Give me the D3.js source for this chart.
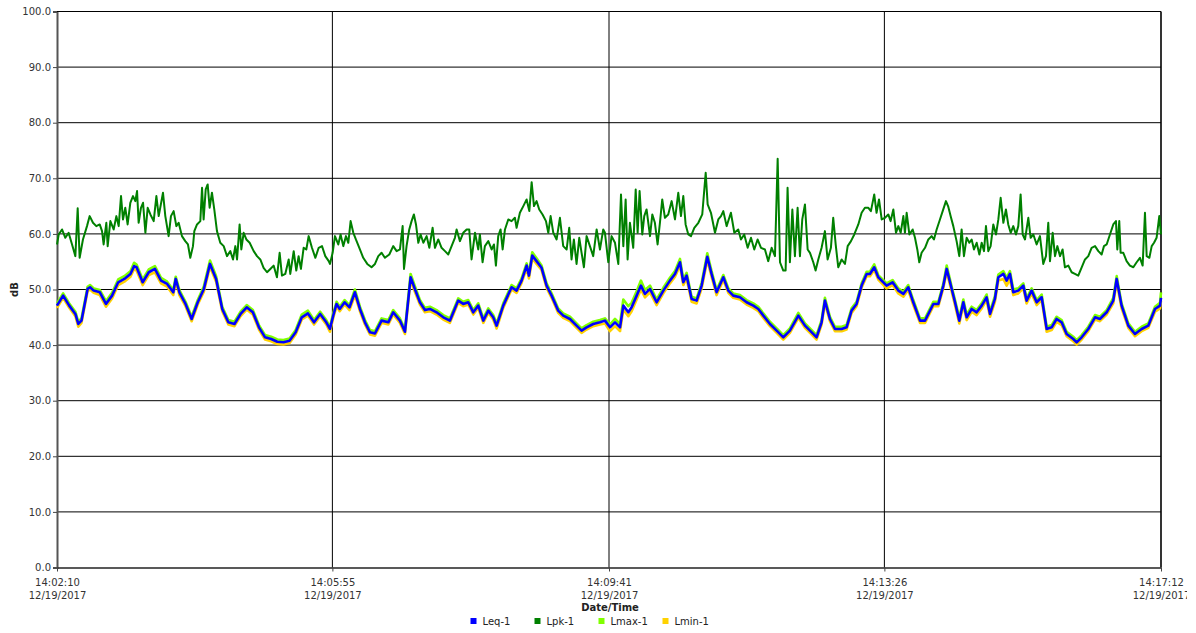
<!DOCTYPE html>
<html>
<head>
<meta charset="utf-8">
<script src="https://cdn.jsdelivr.net/npm/d3@7"></script>
<style>
  body { margin: 0; background: #fff; }
  svg { display: block; font-family: "DejaVu Sans", Verdana, sans-serif; }
</style>
</head>
<body>
<svg id="chart" width="1187" height="633"></svg>
<script>
// start of the record and the labelled tick times
let day = "12/19/2017"
let startTime = "14:02:10"
let timeTicks = ["14:02:10", "14:05:55", "14:09:41", "14:13:26", "14:17:12"]
let dbTicks = [0, 10, 20, 30, 40, 50, 60, 70, 80, 90, 100]
let seriesNames = ["Leq-1", "Lpk-1", "Lmax-1", "Lmin-1"]
let seriesColors = ["#0000ff", "#008000", "#80ff00", "#ffd200"]

// [seconds after start, dB]
let leq = [
  [0,47.1],[5,48.9],[10,47.1],[15,45.6],[17.4,43.8],[20,44.4],[25,50.1],[27,50.4],[30,49.8],[35,49.5],
  [40,47.4],[45,48.9],[50,51.3],[55,51.9],[60,52.8],[63,54.2],[65,54.0],[70,51.3],[75,53.1],[80,53.7],
  [85,51.6],[90,51.0],[95,49.5],[97,51.9],[100,49.5],[105,47.4],[110,44.7],[115,47.7],[120,50.1],[125,54.6],
  [130,51.9],[135,46.5],[140,44.1],[145,43.8],[150,45.6],[155,46.8],[160,45.9],[165,43.2],[170,41.4],[175,41.1],
  [180,40.6],[185,40.5],[190,40.8],[195,42.3],[200,45.0],[205,45.7],[210,44.1],[215,45.6],[220,44.1],
  [223,42.9],[225.7,45.3],[228.4,47.4],[231,46.5],[235,47.7],[239,46.8],[243.4,49.5],[247.5,46.5],[251.6,44.1],[255.7,42.3],
  [259.8,42.1],[265.2,44.4],[270.7,44.1],[274.7,45.9],[280.2,44.4],[284.3,42.4],[288.9,52.2],[292.4,50.1],[296.5,47.7],[300.6,46.3],
  [304.7,46.5],[310.1,45.9],[315.6,45.0],[321,44.4],[327.8,48.0],[331.9,47.4],[336,47.7],[340.1,45.9],[344.2,47.1],[348.3,44.4],
  [352.4,46.2],[356.4,45.0],[359.2,43.5],[364.6,47.1],[371.4,50.4],[375.5,49.8],[379.6,51.6],[383.7,54.3],[385.6,52.5],[388.3,56.1],
  [391.8,55.1],[395.9,53.9],[400,50.7],[404.1,48.9],[409.5,46.2],[413.6,45.3],[419.1,44.7],[424.5,43.5],[428.6,42.6],[432.7,43.2],
  [438.1,43.8],[443.6,44.1],
  [447.7,44.4],[451.8,43.2],[455.9,44.1],[460,43.2],[462.7,47.1],[466.8,45.9],[469.5,46.8],[473.6,48.9],[477.1,50.7],[480.4,49.2],
  [484.5,50.1],[489.9,47.7],[495.4,49.8],[500.8,51.6],[504.9,52.8],[509,54.9],[511.7,51.3],[514.4,52.5],[518.5,48.3],[522.6,48.0],
  [526.7,50.7],[531.3,55.9],[534.8,52.8],[538.9,49.5],[544.4,52.2],[548.5,49.8],[552.5,48.9],[558,48.6],[563.4,47.7],[568.9,47.1],
  [573,46.5],[577.1,45.3],[582.5,43.8],[588,42.6],[593.4,41.4],[598.8,42.6],[605.7,45.3],[611.1,43.5],[615.2,42.6],[620.6,41.4],
  [624.7,44.1],[627.4,48.0],[631.5,44.7],[635.6,42.9],[641.1,42.9],[645.1,43.2],[649.2,46.2],[653.3,47.4],[657.4,50.7],[661.5,52.8],
  [664.2,52.8],[667.7,54.0],[671,52.2],
  [677.8,50.7],[682.7,51.3],[687.4,49.8],[691.5,49.2],[695.5,50.4],[699.6,47.7],[705.1,44.4],[709.2,44.4],[716,47.4],[720.1,47.4],
  [724.2,50.7],[726.9,53.7],[731,50.1],[733.7,47.7],[737.2,44.4],[740.5,47.7],[743.2,45.0],[747.3,46.5],[751.4,45.9],[755.5,47.1],
  [759.5,48.6],[762.3,45.6],[766.3,48.3],[769.1,52.2],[773.2,52.8],[775.9,51.6],[778.6,52.8],[781.3,49.5],[785.4,49.8],[789.5,50.7],
  [792.2,48.0],[796.3,49.8],[800.4,47.7],[804.5,48.6],[808.6,42.9],[812.7,43.2],[816.7,44.7],[820.8,44.1],[824.9,42.0],[830.3,41.1],
  [833.1,40.5],[837.2,41.4],[842.6,42.9],[848.1,45.0],[852.1,44.7],[857.6,45.9],[863,48.0],[865.8,51.9],[869.8,47.1],[875.3,43.5],
  [880.7,42.0],[886.2,42.9],[891.6,43.5],[897.1,46.5],[901.2,47.1],[902,48.5]
]

let lmax = [
  [0,47.5],[5,49.3],[10,47.5],[15,46.0],[17.4,44.2],[20,44.8],[25,50.5],[27,50.8],[30,50.2],[35,49.9],
  [40,47.9],[45,49.4],[50,51.8],[55,52.4],[60,53.3],[63,54.8],[65,54.5],[70,51.8],[75,53.6],[80,54.2],
  [85,52.1],[90,51.4],[95,49.9],[97,52.3],[100,49.9],[105,47.8],[110,45.1],[115,48.1],[120,50.6],[125,55.2],
  [130,52.4],[135,46.9],[140,44.5],[145,44.2],[150,46.0],[155,47.2],[160,46.3],[165,43.6],[170,41.8],[175,41.5],
  [180,41.0],[185,40.9],[190,41.2],[195,42.7],[200,45.5],[205,46.2],[210,44.5],[215,46.0],[220,44.5],
  [223,43.3],[225.7,45.7],[228.4,47.8],[231,46.9],[235,48.1],[239,47.2],[243.4,50.0],[247.5,46.9],[251.6,44.5],[255.7,42.7],
  [259.8,42.5],[265.2,44.8],[270.7,44.5],[274.7,46.3],[280.2,44.8],[284.3,42.8],[288.9,52.8],[292.4,50.6],[296.5,48.1],[300.6,46.7],
  [304.7,46.9],[310.1,46.3],[315.6,45.4],[321,44.8],[327.8,48.4],[331.9,47.8],[336,48.1],[340.1,46.3],[344.2,47.5],[348.3,44.8],
  [352.4,46.6],[356.4,45.4],[359.2,43.9],[364.6,47.5],[371.4,50.8],[375.5,50.2],[379.6,52.0],[383.7,54.7],[385.6,52.9],[388.3,56.7],
  [391.8,55.6],[395.9,54.3],[400,51.1],[404.1,49.3],[409.5,46.6],[413.6,45.7],[419.1,45.1],[424.5,43.9],[428.6,43.0],[432.7,43.6],
  [438.1,44.2],[443.6,44.5],
  [447.7,44.8],[451.8,43.7],[455.9,44.7],[460,43.8],[462.7,48.2],[466.8,47.0],[469.5,47.6],[473.6,49.7],[477.1,51.6],[480.4,49.9],
  [484.5,50.7],[489.9,48.2],[495.4,50.3],[500.8,52.1],[504.9,53.3],[509,55.5],[511.7,51.8],[514.4,53.0],[518.5,48.7],[522.6,48.4],
  [526.7,51.2],[531.3,56.5],[534.8,53.3],[538.9,49.9],[544.4,52.6],[548.5,50.2],[552.5,49.3],[558,49.0],[563.4,48.1],[568.9,47.5],
  [573,46.9],[577.1,45.7],[582.5,44.2],[588,43.0],[593.4,41.8],[598.8,43.0],[605.7,45.8],[611.1,43.9],[615.2,43.0],[620.6,41.8],
  [624.7,44.5],[627.4,48.5],[631.5,45.1],[635.6,43.3],[641.1,43.3],[645.1,43.6],[649.2,46.6],[653.3,47.8],[657.4,51.1],[661.5,53.2],
  [664.2,53.2],[667.7,54.5],[671,52.6],
  [677.8,51.1],[682.7,51.7],[687.4,50.2],[691.5,49.6],[695.5,50.8],[699.6,48.1],[705.1,44.8],[709.2,44.8],[716,47.8],[720.1,47.8],
  [724.2,51.1],[726.9,54.3],[731,50.5],[733.7,48.1],[737.2,44.9],[740.5,48.2],[743.2,45.5],[747.3,46.9],[751.4,46.3],[755.5,47.5],
  [759.5,49.1],[762.3,46.0],[766.3,48.8],[769.1,52.7],[773.2,53.3],[775.9,52.1],[778.6,53.3],[781.3,50.0],[785.4,50.2],[789.5,51.1],
  [792.2,48.4],[796.3,50.2],[800.4,48.1],[804.5,49.1],[808.6,43.3],[812.7,43.6],[816.7,45.1],[820.8,44.5],[824.9,42.4],[830.3,41.5],
  [833.1,40.9],[837.2,41.8],[842.6,43.3],[848.1,45.4],[852.1,45.1],[857.6,46.3],[863,48.5],[865.8,52.4],[869.8,47.5],[875.3,43.9],
  [880.7,42.4],[886.2,43.3],[891.6,43.9],[897.1,46.9],[901.2,47.6],[902,49.5]
]

let lmin = [
  [0,46.7],[5,48.5],[10,46.7],[15,45.2],[17.4,43.3],[20,44.0],[25,49.7],[27,50.0],[30,49.4],[35,49.0],
  [40,46.9],[45,48.4],[50,50.8],[55,51.4],[60,52.3],[63,53.7],[65,53.4],[70,50.8],[75,52.6],[80,53.1],
  [85,51.1],[90,50.5],[95,49.0],[97,51.4],[100,49.0],[105,47.0],[110,44.3],[115,47.3],[120,49.6],[125,54.1],
  [130,51.4],[135,46.1],[140,43.7],[145,43.4],[150,45.2],[155,46.4],[160,45.5],[165,42.8],[170,41.0],[175,40.7],
  [180,40.2],[185,40.1],[190,40.4],[195,41.9],[200,44.6],[205,45.3],[210,43.7],[215,45.2],[220,43.7],
  [223,42.4],[225.7,44.9],[228.4,47.0],[231,46.1],[235,47.3],[239,46.3],[243.4,49.0],[247.5,46.1],[251.6,43.7],[255.7,41.9],
  [259.8,41.7],[265.2,44.0],[270.7,43.7],[274.7,45.5],[280.2,44.0],[284.3,42.0],[288.9,51.7],[292.4,49.6],[296.5,47.3],[300.6,45.9],
  [304.7,46.1],[310.1,45.5],[315.6,44.6],[321,44.0],[327.8,47.6],[331.9,47.0],[336,47.3],[340.1,45.5],[344.2,46.7],[348.3,44.0],
  [352.4,45.8],[356.4,44.6],[359.2,43.0],[364.6,46.7],[371.4,50.0],[375.5,49.4],[379.6,51.2],[383.7,53.8],[385.6,52.0],[388.3,55.6],
  [391.8,54.6],[395.9,53.5],[400,50.3],[404.1,48.5],[409.5,45.8],[413.6,44.9],[419.1,44.3],[424.5,43.1],[428.6,42.2],[432.7,42.8],
  [438.1,43.4],[443.6,43.7],
  [447.7,43.9],[451.8,42.5],[455.9,43.4],[460,42.5],[462.7,46.4],[466.8,45.2],[469.5,46.1],[473.6,48.2],[477.1,50.0],[480.4,48.6],
  [484.5,49.5],[489.9,47.2],[495.4,49.3],[500.8,51.1],[504.9,52.3],[509,54.3],[511.7,50.8],[514.4,52.0],[518.5,47.8],[522.6,47.5],
  [526.7,50.2],[531.3,55.3],[534.8,52.3],[538.9,49.0],[544.4,51.7],[548.5,49.4],[552.5,48.5],[558,48.2],[563.4,47.3],[568.9,46.7],
  [573,46.1],[577.1,44.9],[582.5,43.4],[588,42.2],[593.4,41.0],[598.8,42.2],[605.7,44.9],[611.1,43.1],[615.2,42.2],[620.6,41.0],
  [624.7,43.7],[627.4,47.5],[631.5,44.3],[635.6,42.5],[641.1,42.5],[645.1,42.8],[649.2,45.8],[653.3,47.0],[657.4,50.3],[661.5,52.4],
  [664.2,52.4],[667.7,53.5],[671,51.8],
  [677.8,50.2],[682.7,50.8],[687.4,49.3],[691.5,48.7],[695.5,49.9],[699.6,47.2],[705.1,44.0],[709.2,44.0],[716,47.0],[720.1,47.0],
  [724.2,50.3],[726.9,53.2],[731,49.6],[733.7,47.2],[737.2,43.9],[740.5,47.2],[743.2,44.5],[747.3,46.0],[751.4,45.4],[755.5,46.6],
  [759.5,48.1],[762.3,45.1],[766.3,47.8],[769.1,51.6],[773.2,51.9],[775.9,50.7],[778.6,51.9],[781.3,49.0],[785.4,49.3],[789.5,50.2],
  [792.2,47.5],[796.3,49.3],[800.4,47.2],[804.5,48.1],[808.6,42.4],[812.7,42.7],[816.7,44.2],[820.8,43.6],[824.9,41.6],[830.3,40.7],
  [833.1,40.1],[837.2,41.0],[842.6,42.5],[848.1,44.6],[852.1,44.3],[857.6,45.5],[863,47.5],[865.8,51.3],[869.8,46.6],[875.3,43.1],
  [880.7,41.6],[886.2,42.5],[891.6,43.1],[897.1,46.0],[901.2,46.6],[902,48.0]
]

let lpk = [
  [0,58.1],[1.4,59.9],[4.1,60.8],[6.8,59.3],[9.5,60.2],[12.3,58.1],[15,56.0],[16.9,64.6],[18.5,55.7],[21.2,59.0],
  [24.5,61.4],[26.7,63.2],[29.4,62.0],[32.1,61.4],[34.9,61.7],[36.8,60.5],[38.1,58.1],[40.3,62.0],[41.4,57.8],[43.6,62.3],
  [46.3,60.8],[48.5,63.2],[50.4,61.4],[52.3,66.8],[53.9,62.6],[55.8,64.7],[57.7,61.7],[59.9,65.6],[62.1,66.8],[64,65.9],
  [65.4,67.7],[66.7,62.0],[68.6,64.7],[70.3,65.6],[72.2,60.2],[74.1,64.7],[76.3,63.5],[79,62.3],[81.2,66.8],[83.1,63.2],
  [86.6,67.4],[88.5,63.2],[91.2,59.6],[93.1,63.2],[95.3,64.1],[97.5,61.4],[99.4,62.0],[102.1,59.6],[104.8,58.7],[107,58.1],
  [108.9,55.7],[111.1,57.8],[112.2,60.5],[114.4,61.7],[117.1,62.3],[118.5,68.3],[119.8,62.6],[121.5,68.0],[123.1,68.9],[124.7,64.7],
  [126.6,67.4],[128.5,64.4],[130.7,60.5],[133.4,58.4],[136.2,57.8],[138.9,56.0],[141.6,56.9],[143.8,55.4],[145.7,57.8],[147.1,55.4],
  [149.2,61.7],[150.6,57.2],[152.5,60.2],[154.7,59.0],[157.4,58.4],[160.7,56.9],[163.4,56.0],[166.1,55.4],[168.8,53.9],[171.6,53.1],
  [174.3,53.7],[177,54.3],[179.7,52.2],[181.9,56.6],[183.8,52.5],[186.5,52.8],[189.3,55.4],[190.6,52.8],[193.4,56.9],[195.5,53.4],
  [197.4,56.0],[199.3,53.7],[201.5,57.5],[203.7,57.2],[205.6,59.6],[208.3,57.5],[211.1,55.7],[213.8,57.5],[216.5,57.8],[219.2,56.0],
  [222,55.1],
  [223,54.6],[225.2,56.6],[227.1,59.6],[229.8,58.1],[231.7,59.9],[233.9,57.8],[236.1,59.6],[238,58.4],[239.9,62.3],[242.1,60.2],
  [244.2,59.0],[247,57.5],[250.2,55.7],[253.5,54.6],[257,54.0],[259.8,54.6],[262.5,56.0],[265.2,56.6],[267.9,55.7],[271.5,56.3],
  [274.7,57.8],[277.5,56.9],[280.2,57.2],[282.4,61.4],[283.5,53.7],[285.6,57.8],[287.8,60.8],[289.7,62.3],[291.6,63.5],[293.3,61.7],
  [295.2,58.4],[297.1,59.9],[299.3,58.4],[302,59.6],[304.2,57.5],[306.9,61.1],[308.8,57.5],[311.5,59.0],[314.2,57.5],[317,56.9],
  [319.7,56.3],[322.4,57.8],[325.1,59.3],[326.5,60.8],[329.2,58.7],[331.9,60.2],[334.7,60.8],[336.8,60.8],[338.7,55.4],[341.5,60.2],
  [344.2,57.2],[345.5,59.9],[347.7,54.9],[349.6,57.8],[352.4,58.7],[355.1,57.2],[357,58.1],[358.6,54.3],[360.5,59.6],[362.4,60.8],
  [364.1,57.2],[366,60.8],[368.7,62.6],[371.4,62.3],[374.1,62.9],[375.5,61.1],[378.2,63.8],[381,65.0],[383.7,66.2],[385.9,64.1],
  [387.8,69.3],[389.7,65.0],[391.8,65.9],[394,64.4],[396.7,63.5],[399.5,62.3],[401.4,60.2],[403.3,63.2],[405.5,60.2],[408.2,59.0],
  [410.9,62.9],[413.6,57.8],[416.4,57.2],[418.5,61.1],[420.4,55.4],[422.3,59.0],[424.5,54.6],[426.7,59.3],[428.6,56.6],[430.5,54.0],
  [432.7,59.6],[435.4,57.8],[438.1,56.0],[440.9,60.8],[443.6,57.2],[446.3,60.8],
  [447.7,60.2],[450.4,54.9],[453.1,59.6],[455.9,58.4],[458.6,54.6],[460.8,67.1],[462.7,57.8],[464.6,66.2],[466.2,55.4],[468.1,62.0],
  [470.8,57.5],[472.8,68.0],[474.4,60.2],[476,67.7],[478.2,59.9],[479.8,63.2],[481.7,64.4],[484.5,59.6],[486.4,63.5],[488.5,62.0],
  [490.7,58.1],[492.6,62.0],[494.5,66.2],[496.7,62.9],[499.4,63.5],[502.2,65.9],[504.9,62.6],[507.6,67.4],[509.8,63.2],[511.7,66.8],
  [513.6,61.7],[515.8,59.9],[518,59.6],[520.7,61.1],[524,62.0],[527.2,63.5],[530,71.0],[531.6,65.3],[534.3,63.8],[537.6,60.2],
  [540.3,62.6],[542.5,63.2],[544.4,64.1],[547.1,61.4],[550.6,63.8],[553.4,60.2],[556.6,60.8],[558.8,59.0],[561.5,59.9],[564.3,57.5],
  [567,59.3],[569.7,57.2],[572.4,59.0],[575.2,57.5],[578.4,57.2],[581.1,55.1],[583.9,57.5],[586.6,56.0],[588.8,73.5],[590.7,54.9],
  [593.4,53.4],[595.3,53.4],[596.9,68.3],[598.8,54.9],[600.8,64.4],[602.9,56.0],[605.1,64.7],[607,56.0],[608.9,62.6],[611.1,65.3],
  [613.3,57.2],[615.2,56.6],[617.9,54.9],[619.8,53.4],[622,55.4],[624.7,57.5],[627.4,60.5],[629.6,55.4],[632.3,57.5],[634.2,62.9],
  [636.2,58.1],[638.3,54.0],[641.1,55.4],[643.8,54.6],[646,57.8],[648.7,58.7],[651.4,59.9],[654.7,61.7],[657.4,63.8],[660.1,64.7],
  [662.9,64.7],[665,64.1],[667.7,67.1],[669.6,63.8],[671.6,66.2],
  [673.8,62.6],[676.5,62.9],[679.2,63.5],[681.1,62.3],[683.3,64.4],[685.5,60.2],[687.4,61.4],[689.3,60.2],[691.5,63.2],[692.8,60.2],
  [694.2,63.8],[696.4,59.9],[699.1,60.8],[701,59.3],[702.9,57.2],[704.5,54.9],[706.4,56.6],[709.2,57.5],[711.9,59.0],[714.6,59.6],
  [716.5,59.0],[718.7,60.8],[721.4,62.6],[724.1,64.4],[726.3,65.9],[728.2,64.9],[730.1,63.2],[732.3,61.4],[735,58.7],[737.2,56.0],
  [739.1,60.8],[741,56.0],[743.2,59.3],[745.4,58.4],[747.3,59.0],[749.2,57.2],[751.4,58.4],[753.6,56.3],[755.5,58.4],[757.4,56.9],
  [759,61.4],[760.9,56.9],[762.8,57.8],[765,61.7],[767.2,59.9],[769.1,62.6],[771,66.5],[773.2,62.0],[775.3,64.4],[777.2,61.7],
  [779.2,60.2],[781.3,61.4],[783.5,59.9],[785.4,61.4],[787.3,67.1],[789,59.9],[790.9,59.0],[793.6,62.9],[795.5,59.3],[797.7,59.9],
  [800.4,58.1],[803.1,59.6],[805.8,54.6],[808,56.0],[809.9,62.0],[811.3,55.1],[813.5,60.2],[815.4,56.0],[817.3,57.8],[819.5,56.0],
  [821.6,57.2],[823.5,54.0],[826.3,54.3],[829,53.1],[831.7,52.8],[834.4,52.5],[837.2,54.0],[839.9,55.4],[842.6,56.0],[845.3,57.5],
  [848.1,57.8],[850.8,56.9],[853.5,56.3],[855.4,57.8],[857.6,58.1],[860.3,59.9],[863,61.7],[865.2,62.3],[866.3,57.2],[867.9,62.3],
  [869,56.6],[871.2,56.6],[873.9,55.1],[876.6,54.3],[879.4,54.0],[882.1,54.9],[884.8,55.7],[887,54.3],[888.9,63.8],[890.3,56.0],
  [892.5,55.7],[894.4,57.8],[896.3,58.4],[898.4,59.3],[900.6,63.2],[902,59.9]
]


//BEGIN: SCALES
let margin = {top: 11.5, left: 57, right: 1161, bottom: 567.5}
let parseTime = d3.timeParse("%m/%d/%Y %H:%M:%S")
let t0 = parseTime(day + " " + startTime)
let tickDates = timeTicks.map(t => parseTime(day + " " + t))
const atSec = s => new Date(t0.getTime() + s * 1000)

let x = d3.scaleTime()
  .domain([tickDates[0], tickDates[tickDates.length - 1]])
  .range([margin.left, margin.right])
let y = d3.scaleLinear().domain([0, 100]).range([margin.bottom, margin.top])

const svg = d3.select("#chart")
//END: SCALES


//BEGIN: GRID + AXES
svg.append("g")
  .selectAll("line")
  .data(dbTicks.filter(d => d > 0))
  .join("line")
  .attr("x1", margin.left).attr("x2", margin.right)
  .attr("y1", d => y(d)).attr("y2", d => y(d))
  .attr("stroke", "#000").attr("stroke-width", 1)

svg.append("g")
  .selectAll("line")
  .data(tickDates.slice(1))
  .join("line")
  .attr("x1", d => x(d)).attr("x2", d => x(d))
  .attr("y1", margin.top).attr("y2", margin.bottom)
  .attr("stroke", "#000")
  .attr("stroke-width", (d, i) => i == tickDates.length - 2 ? 1.6 : 1)

let yAxis = svg.append("g")
  .attr("transform", `translate(${margin.left},0)`)
  .call(d3.axisLeft(y).tickValues(dbTicks).tickFormat(d3.format(".1f")).tickSize(4).tickPadding(2))
yAxis.select(".domain").attr("stroke", "#555").attr("stroke-width", 2)
yAxis.selectAll(".tick line").attr("stroke", "#444")
yAxis.selectAll(".tick text")
  .attr("fill", "#333").attr("font-size", 10).attr("font-family", "DejaVu Sans")

let xAxis = svg.append("g")
  .attr("transform", `translate(0,${margin.bottom})`)
  .call(d3.axisBottom(x).tickValues(tickDates).tickSizeInner(4).tickSizeOuter(0).tickFormat(""))
xAxis.select(".domain").attr("stroke", "#222").attr("stroke-width", 1.6)
xAxis.selectAll(".tick line").attr("stroke", "#444")
xAxis.selectAll(".tick text").remove()

let xLabels = xAxis.selectAll(".tick")
  .append("text")
  .attr("fill", "#333").attr("font-size", 10).attr("font-family", "DejaVu Sans")
  .attr("text-anchor", "middle")
xLabels.append("tspan").attr("x", 0).attr("y", 18).text(d => d3.timeFormat("%H:%M:%S")(d))
xLabels.append("tspan").attr("x", 0).attr("y", 31.5).text(d => d3.timeFormat("%m/%d/%Y")(d))

svg.append("text")
  .attr("x", (margin.left + margin.right) / 2 + 1).attr("y", 611)
  .attr("text-anchor", "middle").attr("font-size", 10).attr("font-weight", "bold")
  .attr("fill", "#222")
  .text("Date/Time")

svg.append("text")
  .attr("transform", `translate(18,${(margin.top + margin.bottom) / 2}) rotate(-90)`)
  .attr("text-anchor", "middle").attr("font-size", 10).attr("font-weight", "bold")
  .attr("fill", "#222")
  .text("dB")

// top border
svg.append("line")
  .attr("x1", margin.left).attr("x2", margin.right)
  .attr("y1", margin.top).attr("y2", margin.top)
  .attr("stroke", "#000").attr("stroke-width", 1.2)
//END: GRID + AXES


//BEGIN: LINES
const line = d3.line()
  .x(d => x(atSec(d[0])))
  .y(d => y(d[1]))

let series = [
  {data: lmin, color: seriesColors[3], width: 2.6},
  {data: lmax, color: seriesColors[2], width: 2.6},
  {data: lpk, color: seriesColors[1], width: 2},
  {data: leq, color: seriesColors[0], width: 2.6}
]

svg.append("g")
  .selectAll("path")
  .data(series)
  .join("path")
  .attr("d", d => line(d.data))
  .attr("fill", "none")
  .attr("stroke", d => d.color)
  .attr("stroke-width", d => d.width)
  .attr("stroke-linejoin", "round")
//END: LINES


//BEGIN: LEGEND
let legend = svg.append("g")
  .selectAll("g")
  .data(seriesNames)
  .join("g")
  .attr("transform", (d, i) => `translate(${470.5 + i * 64},618)`)

legend.append("rect")
  .attr("width", 6).attr("height", 6)
  .attr("fill", (d, i) => seriesColors[i])

legend.append("text")
  .attr("x", 12).attr("y", 6.5)
  .attr("font-size", 10).attr("fill", "#222")
  .text(d => d)
//END: LEGEND
</script>
</body>
</html>
